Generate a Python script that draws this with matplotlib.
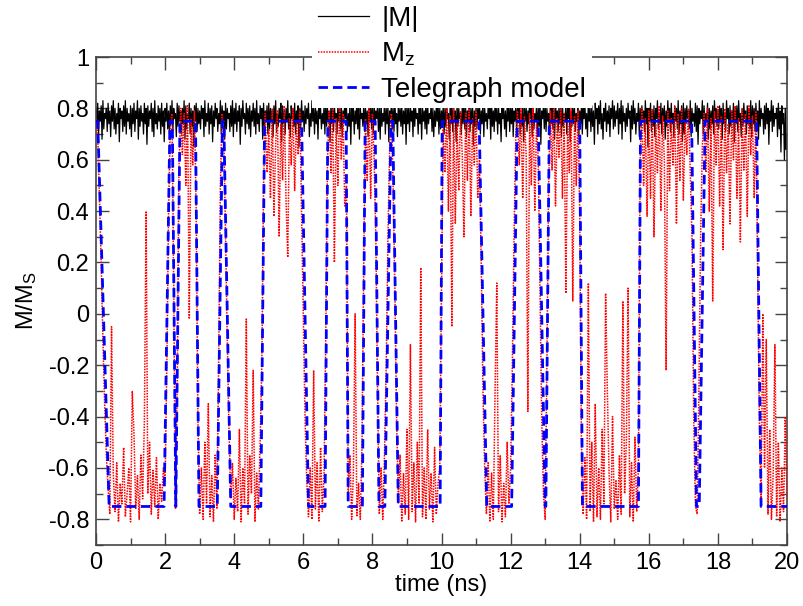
import numpy as np
import matplotlib
matplotlib.use("Agg")
import matplotlib.pyplot as plt
from matplotlib.ticker import MultipleLocator

plt.rcParams['font.family'] = ['Liberation Sans', 'DejaVu Sans']
plt.rcParams['mathtext.default'] = 'regular'

# ---------------- data ----------------
# |M| in units of 0.01 M_S, sampled every 0.025 ns from 0 to 20 ns
m_abs_pct = [
    80, 73, 82, 70, 79, 75, 81, 68, 83, 72, 78, 76, 80, 71, 82, 74, 79, 69, 81, 75,
    83, 72, 80, 70, 78, 74, 82, 67, 80, 76, 79, 71, 81, 73, 83, 70, 80, 75, 78, 72,
    81, 69, 80, 74, 82, 71, 79, 76, 83, 68, 80, 73, 81, 75, 78, 70, 82, 74, 80, 66,
    81, 73, 79, 76, 82, 71, 80, 69, 83, 74, 78, 72, 81, 75, 80, 70, 82, 73, 79, 67,
    80, 75, 82, 72, 79, 70, 81, 74, 83, 71, 80, 76, 78, 69, 82, 73, 81, 75, 79, 70,
    80, 74, 83, 68, 81, 72, 78, 76, 82, 70, 80, 73, 79, 65, 81, 75, 82, 71, 80, 74,
    79, 72, 81, 76, 80, 69, 83, 73, 78, 75, 82, 70, 80, 74, 81, 67, 79, 73, 82, 76,
    80, 71, 78, 74, 83, 70, 81, 75, 79, 68, 82, 72, 80, 76, 78, 71, 81, 73, 83, 69,
    80, 74, 82, 71, 79, 75, 81, 66, 80, 73, 83, 76, 78, 70, 82, 74, 80, 72, 81, 69,
    79, 75, 82, 73, 80, 70, 83, 74, 78, 71, 81, 76, 80, 68, 82, 73, 79, 75, 81, 70,
    82, 72, 80, 75, 79, 69, 81, 74, 83, 71, 78, 73, 80, 76, 82, 67, 81, 74, 79, 70,
    80, 75, 83, 72, 78, 69, 81, 76, 80, 73, 82, 70, 79, 74, 81, 65, 80, 72, 83, 75,
    79, 71, 81, 74, 80, 76, 82, 69, 78, 73, 83, 75, 80, 70, 81, 74, 79, 68, 82, 76,
    80, 72, 78, 74, 81, 70, 83, 73, 80, 75, 79, 67, 82, 74, 80, 71, 81, 76, 78, 70,
    81, 75, 80, 72, 82, 69, 79, 74, 83, 76, 80, 71, 78, 73, 82, 66, 81, 75, 80, 70,
    79, 74, 83, 72, 81, 68, 80, 76, 78, 73, 82, 71, 80, 74, 79, 69, 81, 75, 83, 72,
    80, 70, 82, 74, 79, 76, 81, 71, 80, 68, 83, 73, 78, 75, 82, 70, 80, 74, 81, 67,
    79, 76, 82, 72, 80, 71, 83, 74, 78, 69, 81, 75, 80, 73, 82, 70, 79, 74, 81, 66,
    82, 74, 80, 71, 81, 75, 79, 69, 83, 73, 80, 76, 78, 70, 82, 74, 81, 68, 80, 75,
    79, 72, 83, 70, 81, 74, 78, 76, 82, 71, 80, 69, 79, 73, 81, 75, 83, 70, 80, 72,
    79, 75, 81, 70, 80, 73, 82, 76, 78, 68, 81, 74, 83, 71, 80, 75, 79, 67, 82, 73,
    80, 76, 78, 70, 81, 74, 83, 72, 80, 69, 79, 75, 82, 71, 80, 74, 81, 66, 79, 73,
    81, 72, 80, 76, 82, 70, 79, 74, 83, 69, 80, 75, 78, 72, 81, 76, 80, 68, 82, 73,
    79, 71, 83, 75, 80, 70, 81, 74, 78, 67, 82, 76, 80, 72, 79, 69, 81, 75, 83, 71,
    80, 74, 82, 69, 79, 75, 81, 72, 80, 76, 83, 70, 78, 73, 82, 67, 80, 75, 81, 71,
    79, 74, 83, 76, 80, 69, 82, 72, 78, 75, 81, 70, 80, 73, 83, 66, 79, 76, 81, 72,
    82, 71, 80, 75, 78, 70, 81, 74, 83, 72, 80, 68, 82, 76, 79, 71, 81, 74, 80, 69,
    83, 73, 78, 75, 82, 70, 80, 76, 81, 67, 79, 73, 82, 74, 80, 71, 78, 75, 83, 69,
    79, 74, 81, 70, 80, 76, 82, 72, 78, 69, 83, 75, 80, 71, 81, 73, 79, 66, 82, 76,
    80, 70, 81, 74, 83, 72, 78, 68, 80, 75, 82, 71, 79, 74, 81, 69, 80, 76, 83, 72,
    81, 73, 79, 76, 82, 70, 80, 74, 83, 68, 81, 75, 78, 71, 80, 73, 82, 76, 79, 67,
    81, 72, 83, 74, 80, 70, 78, 75, 82, 69, 80, 73, 81, 76, 79, 71, 83, 74, 80, 65,
    80, 75, 82, 71, 79, 73, 81, 69, 80, 76, 83, 72, 78, 74, 82, 70, 80, 75, 81, 68,
    79, 73, 83, 76, 80, 71, 82, 74, 78, 69, 81, 75, 80, 72, 83, 70, 79, 74, 81, 67,
    82, 70, 80, 74, 81, 76, 79, 72, 83, 69, 80, 75, 78, 73, 82, 71, 81, 66, 80, 74,
    79, 76, 83, 70, 81, 73, 78, 75, 82, 68, 80, 72, 79, 74, 81, 70, 83, 76, 80, 73,
    79, 72, 81, 75, 80, 68, 82, 74, 78, 71, 83, 76, 80, 70, 81, 73, 79, 75, 82, 67,
    80, 74, 81, 71, 83, 75, 78, 69, 80, 73, 82, 76, 79, 70, 81, 74, 80, 72, 83, 69,
    81, 74, 80, 71, 82, 75, 79, 68, 83, 73, 80, 76, 78, 70, 81, 72, 82, 74, 80, 66,
    79, 75, 83, 71, 81, 73, 78, 76, 80, 69, 82, 72, 79, 63, 81, 74, 78, 60, 80, 64,
    70,
]

# M_z in units of 0.01 M_S, sampled every 0.05 ns from 0 to 20 ns
m_z_pct = [
    76, 70, 45, 20, -10, -35, -55, -68, -78, -5,
    -62, -77, -58, -81, -66, -74, -52, -79, -70, -60,
    -81, -30, -47, -76, -63, -80, -55, -72, -42, 40,
    -70, -50, -78, -61, -75, -56, -80, -66, -73, -60,
    -65, -20, 40, 74, 78, 10, -76, -30, 55, 80,
    62, 78, 50, 81, -2, 76, 58, 79, 40, -40,
    -78, -60, -80, -50, -74, -35, -79, -63, -81, -55,
    -76, -20, 50, 78, 70, 30, -10, -45, -72, -58,
    -80, -64, -77, -45, -81, -60, -74, -2, -78, -55,
    -70, -22, -81, -62, -76, -50, -20, 50, 78, 55,
    72, 45, 80, 38, 66, 79, 30, 74, 52, 81,
    44, 22, 76, 58, 80, 48, 75, 62, 79, 40,
    0, -40, -65, -79, -60, -80, -22, -76, -58, -81,
    -52, -77, -63, -10, 60, 79, 55, 80, 20, 76,
    50, 81, 60, 78, 42, 50, -70, -55, -80, -62,
    0, -79, -66, -80, -50, 20, 76, 52, 80, 45,
    78, 60, 30, -30, -78, -60, -80, -55, -20, 30,
    65, 78, 50, 10, -40, -74, -55, -81, -62, -78,
    -45, -80, -12, -77, -58, -81, -50, -74, 18, -79,
    -60, -80, -45, -76, -62, -81, -52, -78, -66, -60,
    10, 72, 55, 80, 40, 77, -5, 81, 35, 74,
    48, 79, 62, 30, 78, 52, 80, 38, 76, 58,
    79, 45, 60, 20, -30, -60, -78, -58, -81, -62,
    -80, -30, 12, -77, -55, -81, -66, -79, -50, -74,
    -60, -20, 30, 70, 79, 58, 80, 45, 77, 62,
    -38, 78, 50, 81, 40, 74, 60, 10, -40, -70,
    -80, -20, 50, 79, 56, 80, 42, 76, 61, 81,
    45, 78, 8, 74, 55, 80, 5, 77, 50, 79,
    40, -50, -78, -56, -80, 12, -77, -50, -81, -35,
    -79, -60, -80, -45, -74, 8, -30, -62, -81, -40,
    -76, -65, -80, -55, -78, 5, -70, -50, 10, -79,
    -58, -81, -48, -77, -60, 60, 80, 50, 76, 38,
    79, 45, 80, 30, 74, 55, 81, 40, 77, 60,
    -22, 79, 48, 76, 58, 81, 35, 78, 52, 80,
    44, 75, 62, 80, 55, 30, -40, -75, -78, -30,
    30, 65, 78, 55, 80, 40, 76, 5, 79, 58,
    81, 42, 77, 25, 80, 55, 74, 35, 79, 60,
    81, 45, 76, 28, 80, 56, 78, 38, 81, 62,
    77, 45, 79, 20, -40, -74, 0, -60, -10, -78,
    -45, -80, -62, -12, -79, -50, -81, -60, -77, -40,
    -72,
]

# Telegraph model: corner times (ns) and levels (M/M_S)
tele_t = [0.00, 0.05, 0.38, 1.97, 2.14, 2.21, 2.31, 2.43, 2.88, 2.98,
          3.51, 3.66, 3.70, 3.90, 4.77, 4.88, 5.95, 6.15, 6.63, 6.71,
          7.24, 7.30, 7.71, 7.79, 8.08, 8.19, 8.36, 8.54, 8.59, 8.75,
          9.96, 10.02, 11.09, 11.31, 12.03, 12.19, 12.80, 13.00, 13.02, 13.12,
          14.00, 14.08, 15.70, 15.76, 17.24, 17.38, 17.46, 17.63, 19.12, 19.25,
          20.00]
tele_m = [0.75, 0.75, -0.75, -0.75, 0.75, 0.75, -0.75, 0.75, 0.75, -0.75,
          -0.75, 0.75, 0.75, -0.75, -0.75, 0.75, 0.75, -0.75, -0.75, 0.75,
          0.75, -0.75, -0.75, 0.75, 0.75, -0.75, -0.75, 0.75, 0.75, -0.75,
          -0.75, 0.75, 0.75, -0.75, -0.75, 0.75, 0.75, -0.75, -0.75, 0.75,
          0.75, -0.75, -0.75, 0.75, 0.75, -0.75, -0.75, 0.75, 0.75, -0.75,
          -0.75]

labels = ['|M|', 'M$_z$', 'Telegraph model']
x_ticks = [0, 2, 4, 6, 8, 10, 12, 14, 16, 18, 20]
y_ticks = [-0.8, -0.6, -0.4, -0.2, 0, 0.2, 0.4, 0.6, 0.8, 1]
y_ticklabels = ['-0.8', '-0.6', '-0.4', '-0.2', '0', '0.2', '0.4', '0.6', '0.8', '1']

# ---------------- plot ----------------
fig = plt.figure(figsize=(8.04, 6.06), dpi=100)
ax = fig.add_axes([96/804, 1-545/606, (787-96)/804, (545-57)/606])

m_abs = np.array(m_abs_pct) / 100.0
m_z = np.array(m_z_pct) / 100.0
t_abs = np.linspace(0, 20, len(m_abs))
t_z = np.linspace(0, 20, len(m_z))

ax.plot(t_abs, m_abs, color='black', lw=0.9, label=labels[0], zorder=2)
ax.plot(t_z, m_z, color='red', lw=1.1, linestyle=(0, (1, 0.8)), label=labels[1], zorder=3)
ax.plot(tele_t, tele_m, color='#0000ff', lw=2.0, dashes=(3.4, 1.8), label=labels[2], zorder=4)

ax.set_xlim(0, 20)
ax.set_ylim(-0.9, 1.0)
ax.set_xticks(x_ticks)
ax.set_xticklabels([str(v) for v in x_ticks])
ax.set_yticks(y_ticks)
ax.set_yticklabels(y_ticklabels)
ax.xaxis.set_minor_locator(MultipleLocator(1))
ax.yaxis.set_minor_locator(MultipleLocator(0.1))
ax.tick_params(which='both', direction='in', top=True, right=True,
               color='#444444', width=1.0, labelsize=17, pad=5)
ax.tick_params(which='major', length=9)
ax.tick_params(which='minor', length=5)
for s in ax.spines.values():
    s.set_color('#444444')
    s.set_linewidth(1.2)

ax.set_xlabel('time (ns)', fontsize=17, labelpad=0)
ax.set_ylabel('M/M$_S$', fontsize=17, labelpad=7)

leg = ax.legend(loc='upper left', bbox_to_anchor=(312/804, 1.0),
                bbox_transform=fig.transFigure, borderaxespad=0,
                fontsize=20, frameon=True, fancybox=False,
                handlelength=1.85, handletextpad=0.45, labelspacing=0.32,
                borderpad=0.2)
leg.get_frame().set_facecolor('white')
leg.get_frame().set_edgecolor('none')
leg.get_frame().set_alpha(1.0)
leg.set_zorder(10)

fig.savefig('out.png', dpi=100)
